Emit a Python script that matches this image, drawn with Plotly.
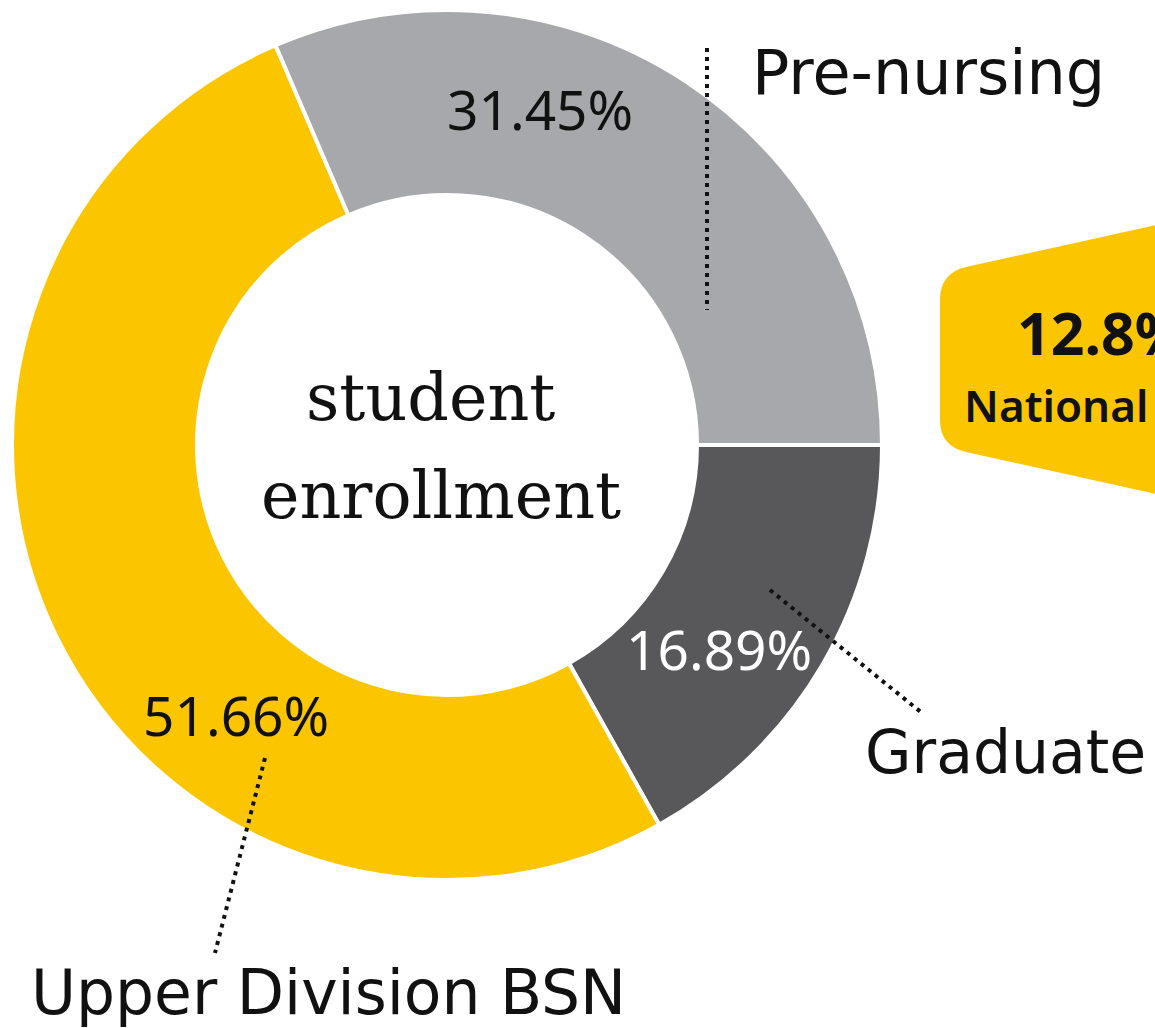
import plotly.graph_objects as go

W, H = 1155, 1028

# ---- data ----
categories = ["Graduate", "Upper Division BSN", "Pre-nursing"]
shares = [16.89, 51.66, 31.45]
slice_colors = ["#58585A", "#FBC600", "#A7A8AB"]
pct_colors = ["#FFFFFF", "#111111", "#111111"]
center_lines = ["student", "enrollment"]
national_value = "12.8%"
national_label = "National"

SANS = "Noto Sans"
LABEL = "DejaVu Sans"
SERIF = "DejaVu Serif"


def px(x):
    return x / W


def py(y):
    return 1 - y / H


cx, cy, R, r_in = 447, 445, 435, 250

fig = go.Figure(
    go.Pie(
        values=shares,
        labels=categories,
        sort=False,
        direction="clockwise",
        rotation=90,
        hole=r_in / R,
        marker=dict(colors=slice_colors, line=dict(color="white", width=4)),
        textinfo="none",
        hoverinfo="label+percent",
        showlegend=False,
        domain=dict(x=[px(cx - R), px(cx + R)], y=[py(cy + R), py(cy - R)]),
    )
)

# callout shape (right side, partially cropped)
pts = [
    ("M", [(940, 300)]),
    ("Q", [(940, 273), (966, 267)]),
    ("L", [(1170, 222)]),
    ("L", [(1170, 497)]),
    ("L", [(966, 452)]),
    ("Q", [(940, 446), (940, 420)]),
]
path = ""
for cmd, ps in pts:
    path += cmd + " " + " ".join(f"{px(x):.5f},{py(y):.5f}" for x, y in ps) + " "
path += "Z"

shapes = [
    dict(type="path", xref="paper", yref="paper", path=path,
         fillcolor="#FBC600", line=dict(width=0), layer="below"),
]

leaders = [
    ((770, 590), (922, 713)),   # Graduate
    ((265, 758), (215, 953)),   # Upper Division BSN
    ((707, 48), (707, 310)),    # Pre-nursing
]
for (x0, y0), (x1, y1) in leaders:
    shapes.append(dict(type="line", xref="paper", yref="paper",
                       x0=px(x0), y0=py(y0), x1=px(x1), y1=py(y1),
                       line=dict(color="#111111", width=4, dash="4px,5px")))

annotations = []
# percentage labels
pct_pos = [(719, 648), (236, 714), (540, 109)]
for v, (x, y), c in zip(shares, pct_pos, pct_colors):
    annotations.append(dict(x=px(x), y=py(y), xref="paper", yref="paper",
                            text=f"{v:.2f}%", showarrow=False,
                            xanchor="center", yanchor="middle",
                            font=dict(family=SANS, size=55, color=c)))

# category labels
lab_pos = [(863, 752, 60), (29, 993, 61.5), (750, 73, 62)]
for name, (x, y, s) in zip(categories, lab_pos):
    annotations.append(dict(x=px(x), y=py(y), xref="paper", yref="paper",
                            text=name, showarrow=False,
                            xanchor="left", yanchor="middle",
                            font=dict(family=LABEL, size=s, color="#111111")))

# center text
for txt, (x, y) in zip(center_lines, [(430, 398), (441, 495)]):
    annotations.append(dict(x=px(x), y=py(y), xref="paper", yref="paper",
                            text=txt, showarrow=False,
                            xanchor="center", yanchor="middle",
                            font=dict(family=SERIF, size=65, color="#111111")))

# callout text
annotations.append(dict(x=px(1015), y=py(332), xref="paper", yref="paper",
                        text=national_value, showarrow=False,
                        xanchor="left", yanchor="middle",
                        font=dict(family=SANS, size=59, color="#111111", weight="bold")))
annotations.append(dict(x=px(962), y=py(405), xref="paper", yref="paper",
                        text=national_label, showarrow=False,
                        xanchor="left", yanchor="middle",
                        font=dict(family=SANS, size=44, color="#111111", weight=600)))

fig.update_layout(
    width=W, height=H,
    margin=dict(l=0, r=0, t=0, b=0),
    paper_bgcolor="white", plot_bgcolor="white",
    shapes=shapes, annotations=annotations,
)

fig.write_html("out.html", config={"displayModeBar": False},
               post_script="document.body.style.margin='0px';")
